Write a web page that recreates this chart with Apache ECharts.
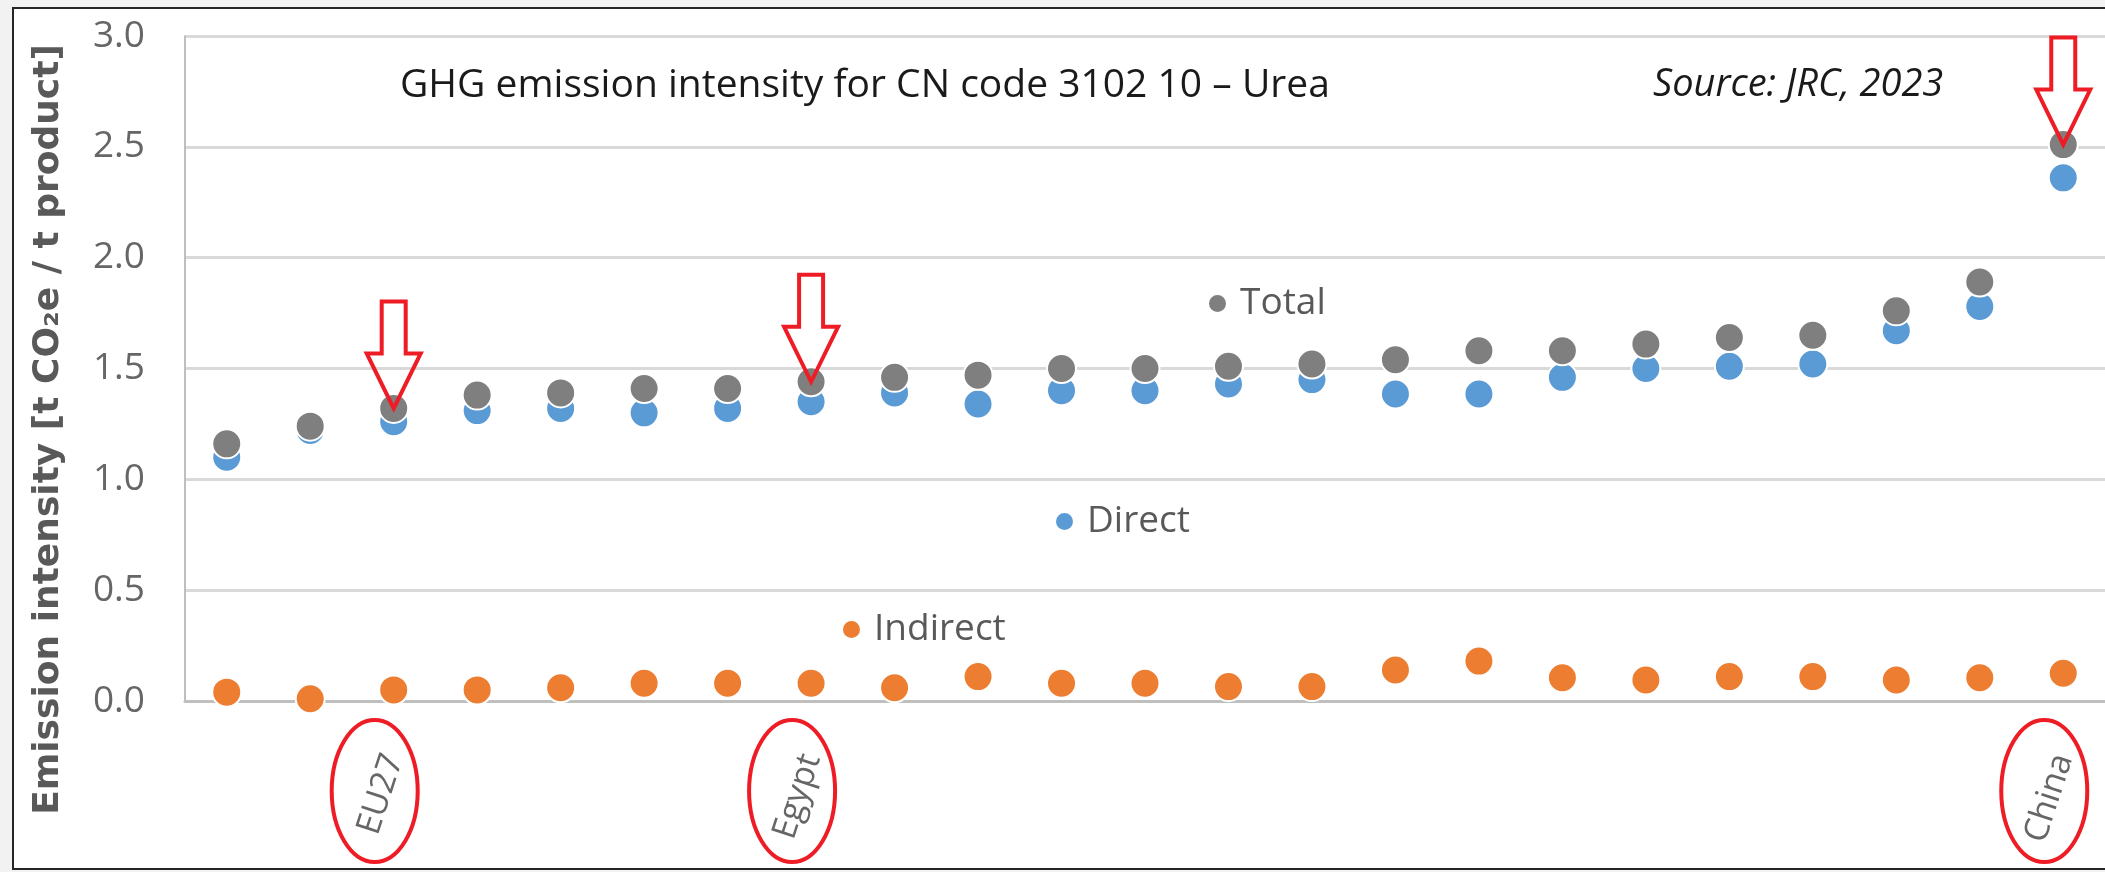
<!DOCTYPE html>
<html>
<head>
<meta charset="utf-8">
<script src="https://cdn.jsdelivr.net/npm/echarts@6/dist/echarts.min.js"></script>
<style>
html,body{margin:0;padding:0;background:#f2f2f2;}
#chart{width:2105px;height:872px;}
</style>
</head>
<body>
<div id="chart"></div>
<script>
// ---- data ----
const categories = ['', '', 'EU27', '', '', '', '', 'Egypt', '', '', '', '', '', '', '', '', '', '', '', '', '', '', 'China'];
const totalValues = [1.16, 1.24, 1.32, 1.38, 1.39, 1.41, 1.41, 1.44, 1.46, 1.47, 1.50, 1.50, 1.51, 1.52, 1.54, 1.58, 1.58, 1.61, 1.64, 1.65, 1.76, 1.89, 2.51];
const directValues = [1.10, 1.22, 1.26, 1.31, 1.32, 1.30, 1.32, 1.35, 1.39, 1.34, 1.40, 1.40, 1.43, 1.45, 1.385, 1.385, 1.46, 1.50, 1.51, 1.52, 1.67, 1.78, 2.36];
const indirectValues = [0.04, 0.01, 0.05, 0.05, 0.06, 0.08, 0.08, 0.08, 0.06, 0.11, 0.08, 0.08, 0.065, 0.065, 0.14, 0.18, 0.105, 0.095, 0.11, 0.11, 0.095, 0.105, 0.125];
const yTicks = [0, 0.5, 1.0, 1.5, 2.0, 2.5, 3.0];
const titleText = 'GHG emission intensity for CN code 3102 10 \u2013 Urea';
const sourceText = 'Source: JRC, 2023';
const yAxisName = 'Emission intensity [t CO\u2082e / t product]';

const chart = echarts.init(document.getElementById('chart'), null, {renderer: 'canvas'});
const GREY = '#7f7f7f', BLUE = '#5b9bd5', ORANGE = '#ed7d31';
const legendText = {fontFamily: 'Open Sans', fontSize: 37, color: '#595959', padding: [0, 0, 0, 8]};

const option = {
  backgroundColor: '#f2f2f2',
  animation: false,
  title: [
    {text: titleText, left: 395, top: 61,
     textStyle: {fontFamily: 'Open Sans', fontSize: 39, fontWeight: 'normal', color: '#1a1a1a'}},
    {text: sourceText, left: 1648, top: 61,
     textStyle: {fontFamily: 'Open Sans', fontSize: 38, fontWeight: 'normal', fontStyle: 'italic', color: '#1a1a1a'}}
  ],
  legend: [
    {data: ['Total'], left: 1202, top: 280, icon: 'circle', itemWidth: 19, itemHeight: 19, textStyle: legendText, selectedMode: false},
    {data: ['Direct'], left: 1049, top: 498, icon: 'circle', itemWidth: 19, itemHeight: 19, textStyle: legendText, selectedMode: false},
    {data: ['Indirect'], left: 836, top: 606, icon: 'circle', itemWidth: 19, itemHeight: 19, textStyle: legendText, selectedMode: false}
  ],
  grid: {left: 185, top: 36, bottom: 171, right: -12, containLabel: false},
  xAxis: {
    type: 'category',
    data: categories,
    boundaryGap: true,
    axisLine: {lineStyle: {color: '#bfbfbf', width: 3}},
    axisTick: {show: false},
    axisLabel: {interval: 0, rotate: 72, margin: 54, fontFamily: 'Open Sans', fontSize: 34, color: '#666666'},
    splitLine: {show: false}
  },
  yAxis: {
    type: 'value',
    min: yTicks[0], max: yTicks[yTicks.length - 1], interval: 0.5,
    name: yAxisName,
    nameLocation: 'middle',
    nameRotate: 90,
    nameGap: 118,
    nameTextStyle: {fontFamily: 'DejaVu Sans', fontWeight: 'bold', fontSize: 36, color: '#595959', padding: [0, 122, 0, 0]},
    axisLine: {show: true, lineStyle: {color: '#bfbfbf', width: 2}},
    axisTick: {show: false},
    axisLabel: {margin: 40, fontFamily: 'Open Sans', fontSize: 37, color: '#666666', formatter: v => v.toFixed(1)},
    splitLine: {lineStyle: {color: '#d9d9d9', width: 3}}
  },
  series: [
    {name: 'Indirect', type: 'scatter', data: indirectValues, symbolSize: 29,
     itemStyle: {color: ORANGE, borderColor: '#ffffff', borderWidth: 2, opacity: 1}},
    {name: 'Direct', type: 'scatter', data: directValues, symbolSize: 29,
     itemStyle: {color: BLUE, borderColor: '#ffffff', borderWidth: 2, opacity: 1}},
    {name: 'Total', type: 'scatter', data: totalValues, symbolSize: 29,
     itemStyle: {color: GREY, borderColor: '#ffffff', borderWidth: 2, opacity: 1}}
  ],
  graphic: [
    {type: 'rect', id: 'frame', z: -10, silent: true,
     shape: {x: 13, y: 8, width: 2200, height: 861},
     style: {fill: '#ffffff', stroke: '#262626', lineWidth: 2}}
  ]
};
chart.setOption(option);

// red annotations (arrows and ellipses) positioned from the data via the axes
const marks = [];
categories.forEach((c, i) => {
  if (!c) return;
  const tip = chart.convertToPixel({seriesIndex: 2}, [i, totalValues[i]]);
  const base = chart.convertToPixel({seriesIndex: 2}, [i, 0]);
  marks.push({
    type: 'polygon', id: 'arrow' + i, z: 100, silent: true,
    x: tip[0], y: tip[1],
    shape: {points: [[-12, -107], [12, -107], [12, -55], [27, -55], [0, 0], [-27, -55], [-12, -55]]},
    style: {fill: 'none', stroke: '#ee1c25', lineWidth: 4, lineJoin: 'miter'}
  });
  marks.push({
    type: 'ellipse', id: 'ell' + i, z: 100, silent: true,
    shape: {cx: base[0] - 19, cy: base[1] + 90, rx: 43, ry: 71},
    style: {fill: 'none', stroke: '#ee1c25', lineWidth: 4}
  });
});
chart.setOption({graphic: marks});
</script>
</body>
</html>
